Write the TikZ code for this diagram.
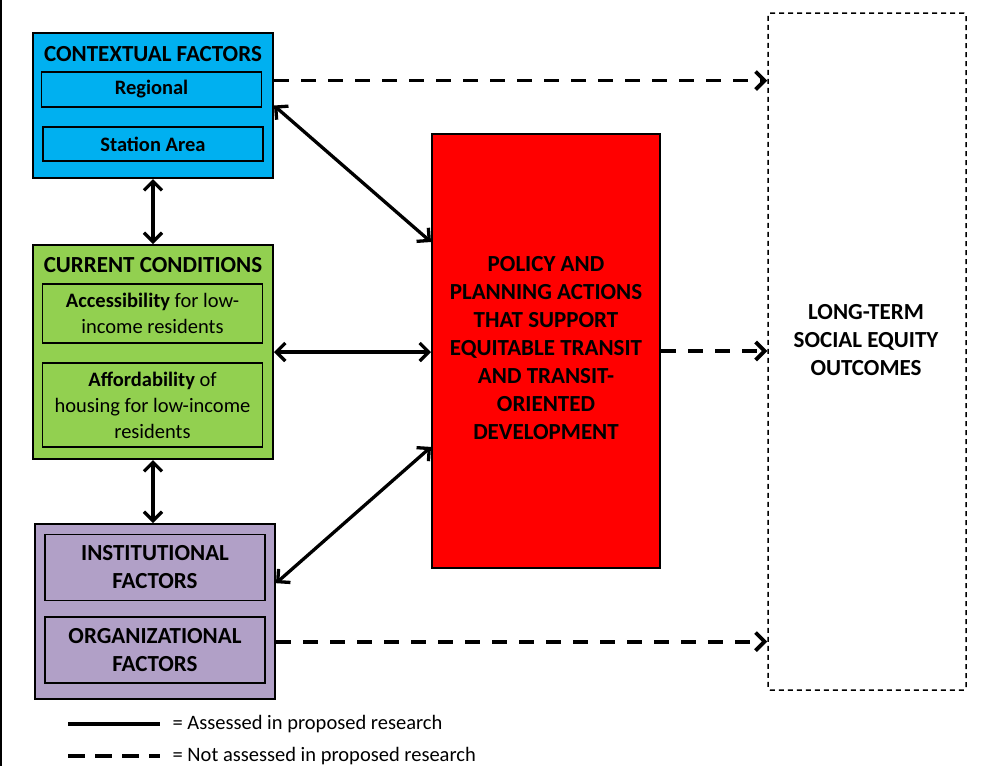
\documentclass[tikz,border=0pt]{standalone}
\usepackage{fontspec}
\setmainfont{Carlito}
\usetikzlibrary{arrows.meta, calc}

\definecolor{ctxblue}{HTML}{00B0F0}
\definecolor{condgreen}{HTML}{92D050}
\definecolor{instpurple}{HTML}{B1A0C7}

\begin{document}
\begin{tikzpicture}[x=1pt, y=-1pt, >={Straight Barb[length=9pt, width=18pt]}, line width=3.3pt]
    \tikzset{
        factorbox/.style={draw, line width=2pt, inner sep=0pt},
        subbox/.style={draw, line width=1.5pt, inner sep=0pt, minimum width=220pt, align=center, font=\fontsize{20.5}{26}\selectfont},
        boxhead/.style={font=\bfseries\fontsize{23}{28}\selectfont, align=center},
        notassessed/.style={dash pattern=on 15pt off 12pt, line width=3.8pt},
        legendtext/.style={anchor=west, inner sep=0pt, font=\fontsize{20.5}{22}\selectfont}
    };
    \useasboundingbox (0,0) rectangle (1003,766);
    \draw[line width=2pt] (1,0) -- (1,766);

    % contextual factors
    \node[factorbox, fill=ctxblue, minimum width=240pt, minimum height=145pt] (ctx) at (153,105.5) {};
    \node[boxhead] (ctxhead) at (153,54) {CONTEXTUAL FACTORS};
    \node[subbox, minimum height=35pt] (reg) at (151.5,89.5) {\textbf{Regional}};
    \node[subbox, minimum height=34pt] (sta) at (153,144) {\textbf{Station Area}};

    % current conditions
    \node[factorbox, fill=condgreen, minimum width=240pt, minimum height=214pt] (cur) at (153,352) {};
    \node[boxhead] (curhead) at (153,265) {CURRENT CONDITIONS};
    \node[subbox, minimum height=59pt] (acc) at (152.5,313.5) {\textbf{Accessibility} for low-\\income residents};
    \node[subbox, minimum height=84pt] (aff) at (152.5,405) {\textbf{Affordability} of\\housing for low-income\\residents};

    % institutional / organizational factors
    \node[factorbox, fill=instpurple, minimum width=240pt, minimum height=175pt] (org) at (155,611.5) {};
    \node[subbox, boxhead, minimum height=66pt] (inst) at (155,567.5) {INSTITUTIONAL\\FACTORS};
    \node[subbox, boxhead, minimum height=66pt] (orgf) at (155,650) {ORGANIZATIONAL\\FACTORS};

    % policy and planning actions
    \node[factorbox, fill=red, minimum width=228pt, minimum height=434pt] (pol) at (546,351) {};
    \node[boxhead] (poltext) at (546,348) {POLICY AND\\PLANNING ACTIONS\\THAT SUPPORT\\EQUITABLE TRANSIT\\AND TRANSIT-\\ORIENTED\\DEVELOPMENT};

    % outcomes
    \node[draw, line width=1.5pt, dash pattern=on 5pt off 4pt, rounded corners=2pt, minimum width=198pt, minimum height=677pt] (out) at (867,351.5) {};
    \node[boxhead] (outtext) at (866,340) {LONG-TERM\\SOCIAL EQUITY\\OUTCOMES};

    % assessed links
    \draw[<->] (ctx.south) -- (cur.north);
    \draw[<->] (cur.south) -- (cur.south |- org.north);
    \draw[<->] (ctx.east) -- ($(pol.north west)!0.25!(pol.south west)$);
    \draw[<->] (cur.east) -- (cur.east -| pol.west);
    \draw[<->] ($(org.north east)!0.34!(org.south east)$) -- ($(pol.north west)!0.72!(pol.south west)$);

    % links not assessed
    \coordinate (ctxout) at ($(ctx.north east)!0.33!(ctx.south east)$);
    \coordinate (orgout) at ($(org.north east)!0.67!(org.south east)$);
    \draw[->, notassessed] (ctxout) -- (ctxout -| out.west);
    \draw[->, notassessed] (pol.east) -- (pol.east -| out.west);
    \draw[->, notassessed] (orgout) -- (orgout -| out.west);

    % legend
    \coordinate (solidA) at (68,724);
    \coordinate (solidB) at (160,724);
    \coordinate (dashA) at (68,756);
    \coordinate (dashB) at (160,756);
    \draw (solidA) -- (solidB);
    \draw[notassessed, dash pattern=on 17pt off 10pt] (dashA) -- (dashB);
    \node[legendtext] (solidlbl) at (171,724) {= Assessed in proposed research};
    \node[legendtext] (dashlbl) at (171,756) {= Not assessed in proposed research};
\end{tikzpicture}
\end{document}
